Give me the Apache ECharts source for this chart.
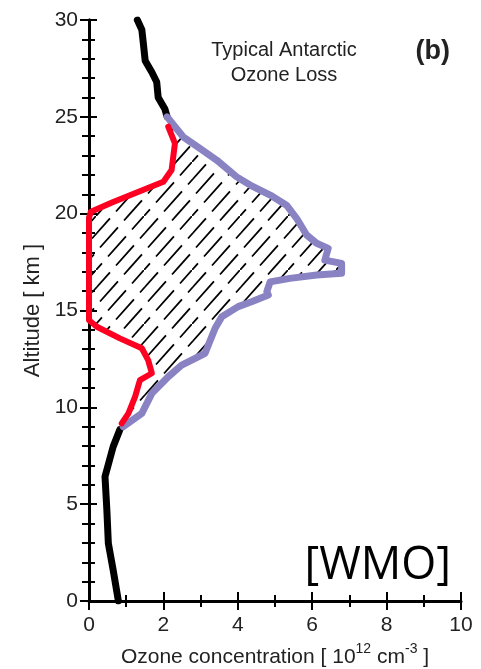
<!DOCTYPE html>
<html>
<head>
<meta charset="utf-8">
<script src="https://cdn.jsdelivr.net/npm/echarts@6/dist/echarts.min.js"></script>
<style>
  html, body { margin: 0; padding: 0; background: #fff; }
  #main { width: 481px; height: 669px; }
</style>
</head>
<body>
<div id="main"></div>
<script>
// points are [ozone concentration (1e12 cm^-3), altitude (km)]
var upperProfile = [[1.3, 30], [1.42, 29.5], [1.46, 28.8], [1.51, 27.9], [1.69, 27.3], [1.82, 26.8], [1.86, 26.0], [2.04, 25.4], [2.1, 25.0]];
var lowerProfile = [[0.83, 8.85], [0.65, 7.97], [0.43, 6.42], [0.48, 4.7], [0.52, 2.98], [0.65, 1.6], [0.79, 0]];
var normalProfile = [
  [2.1, 25.0], [2.53, 23.97], [2.98, 23.37], [3.43, 22.77], [3.97, 21.9], [4.33, 21.48],
  [4.87, 20.96], [5.31, 20.44], [5.58, 19.76], [5.85, 18.9], [6.12, 18.47], [6.43, 18.21],
  [6.34, 17.6], [6.79, 17.43], [6.79, 16.92], [6.12, 16.83], [5.4, 16.66], [4.87, 16.48],
  [4.78, 15.97], [4.82, 15.8], [4.37, 15.45], [4.01, 15.2], [3.57, 14.68], [3.39, 14.08],
  [3.12, 12.79], [2.76, 12.44], [2.49, 12.18], [2.13, 11.58], [1.69, 10.72], [1.42, 9.69], [0.92, 9.0]
];
var holeProfile = [
  [2.13, 24.49], [2.31, 23.63], [2.22, 22.25], [2.0, 21.65], [1.55, 21.3], [0.65, 20.6],
  [0.05, 20.1], [0, 19.8], [0, 14.5], [0.21, 14.16], [0.83, 13.56], [1.42, 13.05],
  [1.59, 12.44], [1.69, 11.76], [1.37, 11.41], [1.24, 10.55], [1.06, 9.69], [0.88, 9.17]
];

var font = 'Liberation Sans, Arial, sans-serif';

// dashed diagonal hatching (repeating tile, dashes staggered line to line)
function makeHatch() {
  var n = 3, w = 16, h = 18;
  var diag = Math.sqrt(w * w + h * h);
  var ux = w / diag, uy = -h / diag;
  var period = n * diag / 2, dash = 27, ext = 3;
  var c = document.createElement('canvas');
  c.width = n * w;
  c.height = n * h;
  var ctx = c.getContext('2d');
  ctx.strokeStyle = '#000';
  ctx.lineWidth = 1.8;
  ctx.setLineDash([dash, period - dash]);
  function run(x0, y0, len, offset) {
    if (len <= 0) return;
    ctx.beginPath();
    ctx.lineDashOffset = offset + ext;
    ctx.moveTo(x0 - ux * ext, y0 - uy * ext);
    ctx.lineTo(x0 + ux * (len + ext), y0 + uy * (len + ext));
    ctx.stroke();
  }
  for (var k = 1; k <= n; k++) {
    var o = (k - 1) * period / n;
    run(0, k * h, k * diag, -o);
    run(k * w, n * h, (n - k) * diag, k * diag - o);
  }
  return c;
}
var hatch = makeHatch();

function profileLine(data, color, width) {
  return {
    type: 'line',
    data: data,
    showSymbol: false,
    silent: true,
    z: 3,
    lineStyle: { color: color, width: width, cap: 'round', join: 'round' }
  };
}

var chart = echarts.init(document.getElementById('main'));

var tickStyle = { color: '#000', width: 2 };

chart.setOption({
  animation: false,
  grid: { left: 89, right: 20, top: 20, bottom: 68, containLabel: false, outerBoundsMode: 'none' },
  xAxis: [{
    type: 'value', min: 0, max: 10, interval: 2, position: 'bottom',
    axisLine: { lineStyle: { color: '#000', width: 3 } },
    axisTick: { show: true, length: 9, lineStyle: tickStyle },
    minorTick: { show: true, splitNumber: 2, length: 6, lineStyle: tickStyle },
    splitLine: { show: false },
    axisLabel: { fontSize: 21, color: '#222', fontFamily: font, margin: 14 },
    name: '{a|Ozone concentration [ 10}{s|12}{a| cm}{s|-3}{a| ]}',
    nameLocation: 'middle',
    nameGap: 41,
    nameTextStyle: {
      rich: {
        a: { fontSize: 21, color: '#222', fontFamily: font, verticalAlign: 'bottom', lineHeight: 26 },
        s: { fontSize: 14, color: '#222', fontFamily: font, verticalAlign: 'top', lineHeight: 26 }
      }
    }
  }, {
    type: 'value', min: 0, max: 10, interval: 2, position: 'top',
    axisLine: { lineStyle: { color: '#000', width: 1.5 } },
    axisTick: { show: true, length: 9, lineStyle: tickStyle },
    minorTick: { show: true, splitNumber: 2, length: 6, lineStyle: tickStyle },
    splitLine: { show: false },
    axisLabel: { show: false }
  }],
  yAxis: [{
    type: 'value', min: 0, max: 30, interval: 5, position: 'left',
    axisLine: { lineStyle: { color: '#000', width: 3 } },
    axisTick: { show: true, length: 9, lineStyle: tickStyle },
    minorTick: { show: true, splitNumber: 5, length: 7, lineStyle: tickStyle },
    splitLine: { show: false },
    axisLabel: { fontSize: 21, color: '#222', fontFamily: font, margin: 11 },
    name: 'Altitude [ km ]',
    nameLocation: 'middle',
    nameGap: 41,
    nameTextStyle: { fontSize: 22, color: '#222', fontFamily: font }
  }, {
    type: 'value', min: 0, max: 30, interval: 5, position: 'right',
    axisLine: { lineStyle: { color: '#000', width: 3 } },
    axisTick: { show: true, length: 8, lineStyle: tickStyle },
    minorTick: { show: true, splitNumber: 5, length: 6, lineStyle: tickStyle },
    splitLine: { show: false },
    axisLabel: { show: false }
  }],
  series: [
    {
      type: 'custom',
      data: [[0, 0]],
      silent: true,
      z: 1,
      renderItem: function (params, api) {
        var pts = holeProfile.concat(normalProfile.slice().reverse()).map(function (p) {
          return api.coord(p);
        });
        return { type: 'polygon', shape: { points: pts }, style: { fill: { image: hatch, repeat: 'repeat' }, stroke: null } };
      }
    },
    profileLine(upperProfile, '#000', 7),
    profileLine(lowerProfile, '#000', 7),
    profileLine(normalProfile, '#8983c3', 7),
    profileLine(holeProfile, '#ff0022', 6)
  ],
  graphic: [
    {
      type: 'text', x: 284, y: 38,
      style: {
        text: 'Typical Antarctic\nOzone Loss', fill: '#222', font: '20px ' + font,
        textAlign: 'center', textVerticalAlign: 'top', lineHeight: 25
      }
    },
    {
      type: 'text', x: 450, y: 52,
      style: { text: '(b)', fill: '#222', font: 'bold 27px ' + font, textAlign: 'right', textVerticalAlign: 'middle' }
    },
    {
      type: 'text', x: 451, y: 566,
      style: { text: '[WMO]', fill: '#000', font: '45px "Open Sans", sans-serif', textAlign: 'right', textVerticalAlign: 'middle' }
    }
  ]
});
</script>
</body>
</html>
